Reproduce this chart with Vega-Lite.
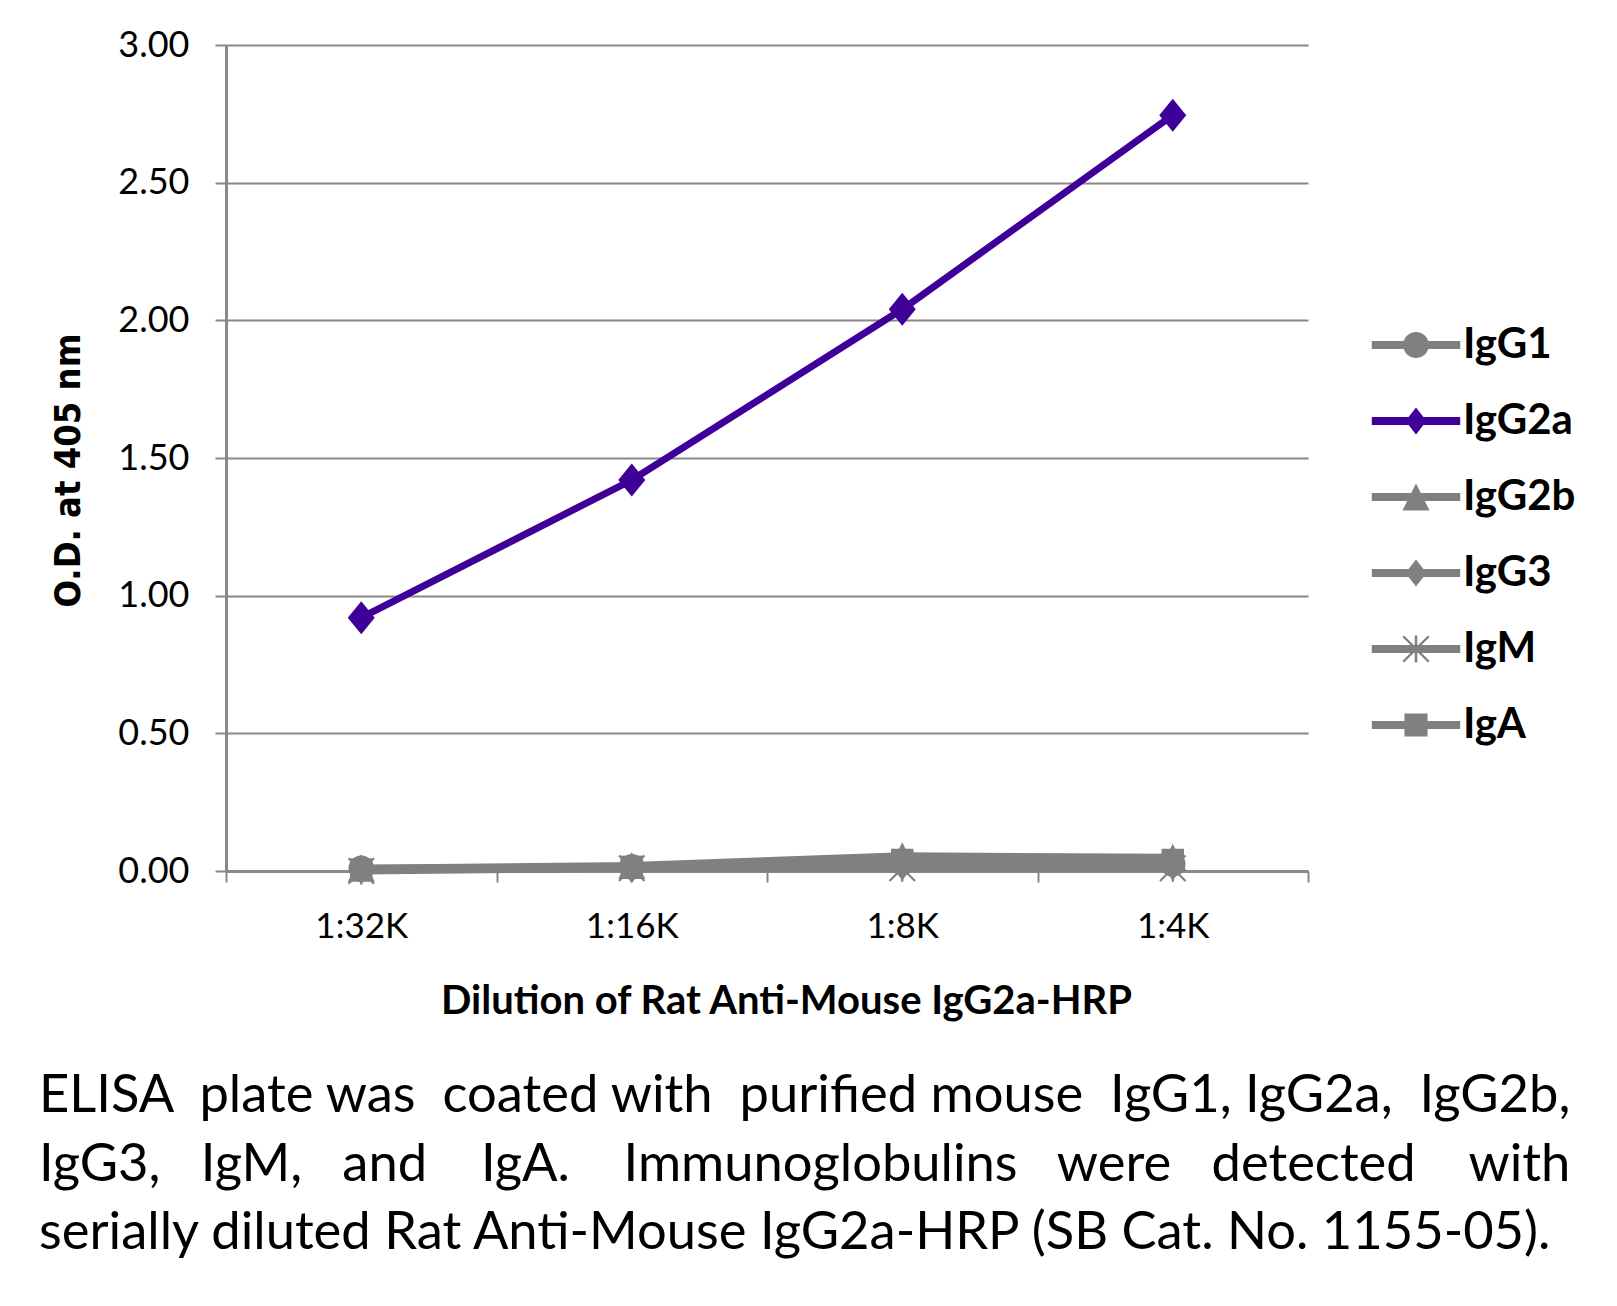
{
  "$schema": "https://vega.github.io/schema/vega-lite/v6.json",
  "width": 1082,
  "height": 826,
  "autosize": "none",
  "padding": {"left": 226, "top": 45, "right": 309, "bottom": 435},
  "background": "white",
  "config": {"view": {"stroke": null}, "font": "Lato"},
  "title": {
    "text": [
      "ELISA\u00a0 plate was\u00a0 coated with\u00a0 purified mouse\u00a0 IgG1, IgG2a,\u00a0 IgG2b,",
      "IgG3,\u00a0\u00a0 IgM,\u00a0\u00a0 and\u00a0\u00a0\u00a0 IgA.\u00a0\u00a0\u00a0 Immunoglobulins\u00a0\u00a0 were\u00a0\u00a0 detected\u00a0\u00a0\u00a0 with",
      "serially diluted Rat Anti-Mouse IgG2a-HRP (SB Cat. No. 1155-05)."
    ],
    "orient": "bottom",
    "anchor": "start",
    "frame": "group",
    "dx": -187,
    "offset": 50,
    "font": "Lato",
    "fontSize": 52.5,
    "fontWeight": "normal",
    "lineHeight": 68.5,
    "color": "black"
  },
  "data": {
    "values": [
      {"dilution": "1:32K", "isotype": "IgG1", "od": 0.01},
      {"dilution": "1:16K", "isotype": "IgG1", "od": 0.015},
      {"dilution": "1:8K", "isotype": "IgG1", "od": 0.03},
      {"dilution": "1:4K", "isotype": "IgG1", "od": 0.025},
      {"dilution": "1:32K", "isotype": "IgG2b", "od": 0.01},
      {"dilution": "1:16K", "isotype": "IgG2b", "od": 0.02},
      {"dilution": "1:8K", "isotype": "IgG2b", "od": 0.055},
      {"dilution": "1:4K", "isotype": "IgG2b", "od": 0.05},
      {"dilution": "1:32K", "isotype": "IgG3", "od": 0.005},
      {"dilution": "1:16K", "isotype": "IgG3", "od": 0.01},
      {"dilution": "1:8K", "isotype": "IgG3", "od": 0.02},
      {"dilution": "1:4K", "isotype": "IgG3", "od": 0.02},
      {"dilution": "1:32K", "isotype": "IgM", "od": 0.0},
      {"dilution": "1:16K", "isotype": "IgM", "od": 0.01},
      {"dilution": "1:8K", "isotype": "IgM", "od": 0.01},
      {"dilution": "1:4K", "isotype": "IgM", "od": 0.01},
      {"dilution": "1:32K", "isotype": "IgA", "od": 0.005},
      {"dilution": "1:16K", "isotype": "IgA", "od": 0.015},
      {"dilution": "1:8K", "isotype": "IgA", "od": 0.04},
      {"dilution": "1:4K", "isotype": "IgA", "od": 0.04},
      {"dilution": "1:32K", "isotype": "IgG2a", "od": 0.92},
      {"dilution": "1:16K", "isotype": "IgG2a", "od": 1.42},
      {"dilution": "1:8K", "isotype": "IgG2a", "od": 2.04},
      {"dilution": "1:4K", "isotype": "IgG2a", "od": 2.745}
    ]
  },
  "encoding": {
    "x": {
      "field": "dilution",
      "type": "nominal",
      "sort": ["1:32K", "1:16K", "1:8K", "1:4K"],
      "scale": {"type": "band", "paddingInner": 0, "paddingOuter": 0},
      "axis": {
        "title": "Dilution of Rat Anti-Mouse IgG2a-HRP",
        "titleFont": "Lato",
        "titleFontSize": 40,
        "titleFontWeight": "bold",
        "titleColor": "black",
        "titlePadding": 37,
        "titleX": 560,
        "labelAngle": 0,
        "labelFont": "Lato",
        "labelFontSize": 35,
        "labelColor": "black",
        "labelPadding": 27,
        "tickBand": "extent",
        "ticks": true,
        "tickSize": 11,
        "tickColor": "#888888",
        "tickWidth": 2,
        "domainColor": "#888888",
        "domainWidth": 3,
        "grid": false
      }
    },
    "y": {
      "field": "od",
      "type": "quantitative",
      "scale": {"domain": [0, 3], "nice": false, "zero": true},
      "axis": {
        "title": "O.D. at 405 nm",
        "titleFont": "DejaVu Sans Condensed",
        "titleFontSize": 36,
        "titleFontWeight": "bold",
        "titleColor": "black",
        "titlePadding": 30,
        "titleY": 425,
        "values": [0, 0.5, 1, 1.5, 2, 2.5, 3],
        "format": ".2f",
        "labelFont": "Lato",
        "labelFontSize": 36,
        "labelColor": "black",
        "labelPadding": 26,
        "ticks": true,
        "tickSize": 11,
        "tickColor": "#888888",
        "tickWidth": 2,
        "domainColor": "#888888",
        "domainWidth": 3,
        "grid": true,
        "gridColor": "#888888",
        "gridWidth": 2
      }
    }
  },
  "layer": [
    {
      "mark": {"type": "line", "strokeWidth": 7, "strokeJoin": "round", "strokeCap": "round"},
      "encoding": {
        "color": {
          "field": "isotype",
          "type": "nominal",
          "scale": {"domain": ["IgG1", "IgG2a", "IgG2b", "IgG3", "IgM", "IgA"], "range": ["#808080", "#3f0099", "#808080", "#808080", "#808080", "#808080"]},
          "legend": null
        },
        "detail": {"field": "isotype"}
      }
    },
    {
      "mark": {"type": "point", "filled": true, "opacity": 1, "size": 900},
      "encoding": {
        "color": {
          "field": "isotype",
          "type": "nominal",
          "scale": {"domain": ["IgG1", "IgG2a", "IgG2b", "IgG3", "IgM", "IgA"], "range": ["#808080", "#3f0099", "#808080", "#808080", "#808080", "#808080"]},
          "legend": null
        },
        "shape": {
          "field": "isotype",
          "type": "nominal",
          "scale": {
            "domain": ["IgG1", "IgG2a", "IgG2b", "IgG3", "IgM", "IgA"],
            "range": [
              "M-0.85,0A0.85,0.85,0,1,1,0.85,0A0.85,0.85,0,1,1,-0.85,0Z",
              "M0,-1.1L0.9,0L0,1.1L-0.9,0Z",
              "M0,-0.9L0.9,0.9L-0.9,0.9Z",
              "M0,-1L0.75,0L0,1L-0.75,0Z",
              "M-0.075,-0.9H0.075V0.9H-0.075Z M-0.9,-0.8L-0.8,-0.9L0.9,0.8L0.8,0.9Z M-0.8,0.9L-0.9,0.8L0.8,-0.9L0.9,-0.8Z",
              "M-0.75,-0.75H0.75V0.75H-0.75Z"
            ]
          },
          "legend": null
        }
      }
    },
    {
      "mark": {"type": "point", "filled": true, "opacity": 0, "size": 10},
      "encoding": {
        "color": {
          "field": "isotype",
          "type": "nominal",
          "scale": {"domain": ["IgG1", "IgG2a", "IgG2b", "IgG3", "IgM", "IgA"], "range": ["#808080", "#3f0099", "#808080", "#808080", "#808080", "#808080"]},
          "legend": {
            "title": null,
            "orient": "none",
            "legendX": 1169,
            "legendY": 279,
            "padding": 0,
            "symbolSize": 1156,
            "symbolOpacity": 1,
            "symbolStrokeWidth": 0,
            "labelFont": "Lato",
            "labelFontSize": 42,
            "labelFontWeight": "bold",
            "labelColor": "black",
            "labelOffset": 26,
            "rowPadding": 34
          }
        },
        "shape": {
          "field": "isotype",
          "type": "nominal",
          "scale": {
            "domain": ["IgG1", "IgG2a", "IgG2b", "IgG3", "IgM", "IgA"],
            "range": [
              "M-2.6,-0.235H2.6V0.235H-2.6Z M-0.76,0A0.76,0.76,0,1,1,0.76,0A0.76,0.76,0,1,1,-0.76,0Z",
              "M-2.6,-0.235H2.6V0.235H-2.6Z M0,-0.8L0.62,0L0,0.8L-0.62,0Z",
              "M-2.6,-0.235H2.6V0.235H-2.6Z M0,-0.8L0.8,0.8L-0.8,0.8Z",
              "M-2.6,-0.235H2.6V0.235H-2.6Z M0,-0.8L0.62,0L0,0.8L-0.62,0Z",
              "M-2.6,-0.235H2.6V0.235H-2.6Z M-0.075,-0.8H0.075V0.8H-0.075Z M-0.8,-0.7L-0.7,-0.8L0.8,0.7L0.7,0.8Z M-0.7,0.8L-0.8,0.7L0.7,-0.8L0.8,-0.7Z",
              "M-2.6,-0.235H2.6V0.235H-2.6Z M-0.68,-0.68H0.68V0.68H-0.68Z"
            ]
          },
          "legend": {
            "title": null,
            "orient": "none",
            "legendX": 1169,
            "legendY": 279,
            "padding": 0,
            "symbolSize": 1156,
            "symbolOpacity": 1,
            "symbolStrokeWidth": 0,
            "labelFont": "Lato",
            "labelFontSize": 42,
            "labelFontWeight": "bold",
            "labelColor": "black",
            "labelOffset": 26,
            "rowPadding": 34
          }
        }
      }
    }
  ],
  "resolve": {"scale": {"color": "independent", "shape": "independent"}}
}
